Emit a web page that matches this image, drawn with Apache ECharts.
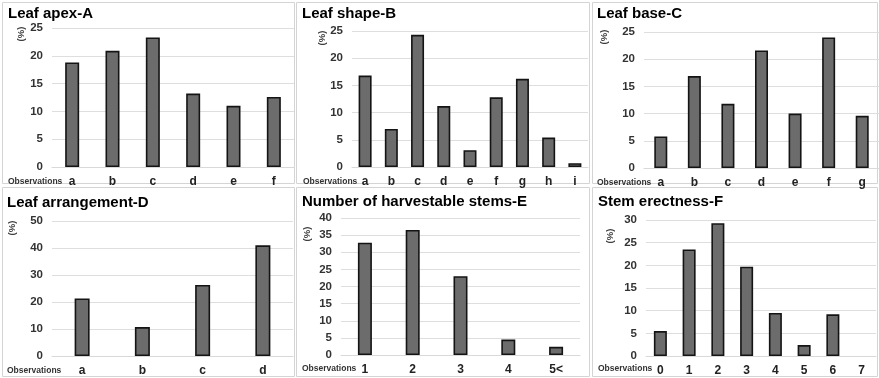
<!DOCTYPE html>
<html><head><meta charset="utf-8">
<script src="https://cdn.jsdelivr.net/npm/echarts@6/dist/echarts.min.js"></script>
<style>html,body{margin:0;padding:0;background:#fff}#c{width:879px;height:378px}</style>
</head><body><div id="c"></div>
<script>
// ---- data ----
const titleA = 'Leaf apex-A';
const catsA = ['a','b','c','d','e','f'];
const valsA = [18.8, 20.9, 23.3, 13.2, 11.0, 12.6];
const ticksA = {max: 25, interval: 5};

const titleB = 'Leaf shape-B';
const catsB = ['a','b','c','d','e','f','g','h','i'];
const valsB = [16.8, 7.0, 24.3, 11.2, 3.1, 12.8, 16.2, 5.4, 0.7];
const ticksB = {max: 25, interval: 5};

const titleC = 'Leaf base-C';
const catsC = ['a','b','c','d','e','f','g'];
const valsC = [5.8, 16.9, 11.8, 21.6, 10.0, 24.0, 9.6];
const ticksC = {max: 25, interval: 5};

const titleD = 'Leaf arrangement-D';
const catsD = ['a','b','c','d'];
const valsD = [21.3, 10.7, 26.3, 41.0];
const ticksD = {max: 50, interval: 10};

const titleE = 'Number of harvestable stems-E';
const catsE = ['1','2','3','4','5<'];
const valsE = [32.8, 36.5, 23.0, 4.5, 2.4];
const ticksE = {max: 40, interval: 5};

const titleF = 'Stem erectness-F';
const catsF = ['0','1','2','3','4','5','6','7'];
const valsF = [5.5, 23.5, 29.3, 19.7, 9.5, 2.4, 9.2, 0];
const ticksF = {max: 30, interval: 5};

const yLabel = '(%)';
const xLabel = 'Observations';

// ---- layout ----
const FONT = 'Arial, "Liberation Sans", sans-serif';
const panels = [
  {t:titleA, c:catsA, v:valsA, k:ticksA, box:[2,2,292,181], grid:{left:52,top:28,width:242,height:139}, bw:14, title:[8,14], pct:[21,34], obs:[8,182]},
  {t:titleB, c:catsB, v:valsB, k:ticksB, box:[296,2,293,181], grid:{left:352,top:31,width:236,height:136}, bw:13, title:[302,14], pct:[322,38], obs:[303,182]},
  {t:titleC, c:catsC, v:valsC, k:ticksC, box:[592,2,285,181], grid:{left:644,top:32,width:236,height:136}, bw:13, title:[597,14], pct:[604,37], obs:[597,183]},
  {t:titleD, c:catsD, v:valsD, k:ticksD, box:[2,187,292,189], grid:{left:52,top:221,width:241,height:135}, bw:15, title:[7,203], pct:[12,228], obs:[7,371]},
  {t:titleE, c:catsE, v:valsE, k:ticksE, box:[296,187,293,189], grid:{left:341,top:218,width:239,height:137}, bw:14, title:[302,202], pct:[307,234], obs:[302,369]},
  {t:titleF, c:catsF, v:valsF, k:ticksF, box:[592,187,285,189], grid:{left:646,top:220,width:230,height:136}, bw:13, title:[598,202], pct:[610,236], obs:[598,369]}
];

const grids = [], xAxes = [], yAxes = [], series = [], graphics = [];
panels.forEach((p, i) => {
  graphics.push({type:'rect', shape:{x:p.box[0]+0.5, y:p.box[1]+0.5, width:p.box[2], height:p.box[3]},
    style:{fill:null, stroke:'#d4d4d4', lineWidth:1}, z:-1});
  graphics.push({type:'text', x:p.title[0], y:p.title[1],
    style:{text:p.t, font:'bold 15px '+FONT, fill:'#000', textVerticalAlign:'middle'}});
  graphics.push({type:'text', x:p.pct[0], y:p.pct[1], rotation:Math.PI/2,
    style:{text:yLabel, font:'bold 9.5px '+FONT, fill:'#404040', textAlign:'center', textVerticalAlign:'middle'}});
  graphics.push({type:'text', x:p.obs[0], y:p.obs[1],
    style:{text:xLabel, font:'bold 8.5px '+FONT, fill:'#333', textVerticalAlign:'middle'}});
  grids.push(Object.assign({containLabel:false}, p.grid));
  xAxes.push({type:'category', gridIndex:i, data:p.c,
    axisLine:{show:true, lineStyle:{color:'#d9d9d9', width:1}}, axisTick:{show:false},
    axisLabel:{color:'#222', fontWeight:'bold', fontSize:12, fontFamily:FONT, margin:9, interval:0}});
  yAxes.push({type:'value', gridIndex:i, min:0, max:p.k.max, interval:p.k.interval,
    axisLine:{show:false}, axisTick:{show:false},
    splitLine:{lineStyle:{color:'#dedede', width:1}},
    axisLabel:{color:'#333', fontWeight:'bold', fontSize:11.5, fontFamily:FONT, margin:9}});
  series.push({type:'bar', xAxisIndex:i, yAxisIndex:i, data:p.v.map(v => v === 0 ? '-' : v), barWidth:p.bw,
    itemStyle:{color:'#6c6c6c', borderColor:'#141414', borderWidth:1.6}, silent:true, animation:false});
});

const chart = echarts.init(document.getElementById('c'), null, {renderer:'canvas'});
chart.setOption({
  backgroundColor:'#fff', animation:false,
  grid:grids, xAxis:xAxes, yAxis:yAxes, series:series, graphic:graphics
});
</script></body></html>
